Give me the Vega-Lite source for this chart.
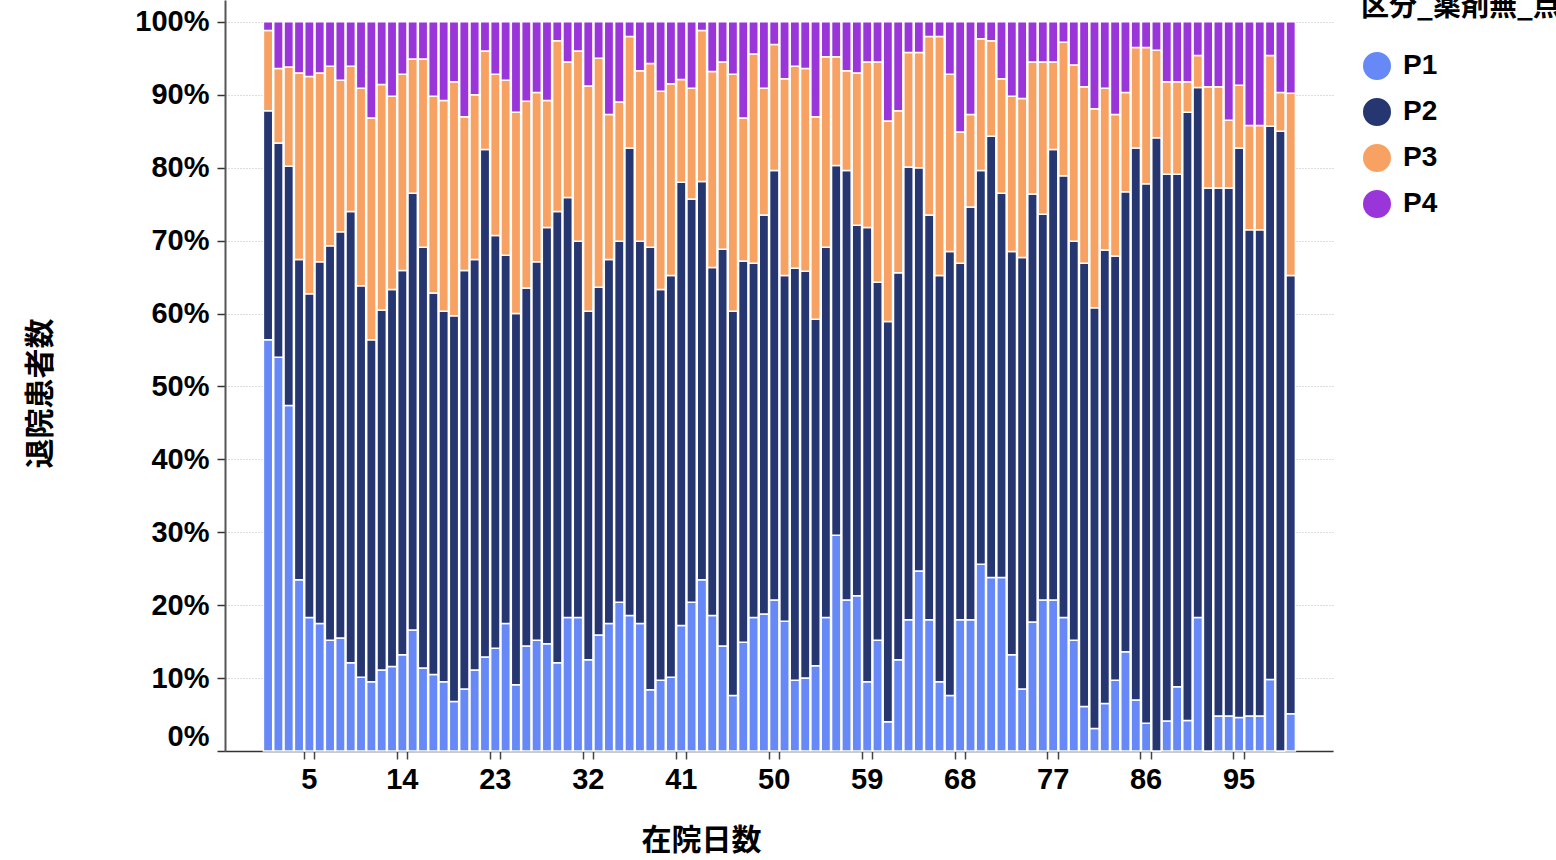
{
  "$schema": "https://vega.github.io/schema/vega-lite/v6.json",
  "width": 1108,
  "height": 751,
  "autosize": {"type": "none"},
  "padding": {"left": 225, "top": 0, "right": 223, "bottom": 109},
  "background": "white",
  "view": {"stroke": null},
  "data": {"values": [
    {"day":1,"P1":56.4,"P2":31.4,"P3":11.0,"P4":1.2},
    {"day":2,"P1":54.0,"P2":29.4,"P3":10.2,"P4":6.4},
    {"day":3,"P1":47.4,"P2":32.8,"P3":13.6,"P4":6.2},
    {"day":4,"P1":23.5,"P2":43.9,"P3":25.6,"P4":7.0},
    {"day":5,"P1":18.3,"P2":44.4,"P3":29.8,"P4":7.5},
    {"day":6,"P1":17.5,"P2":49.6,"P3":25.9,"P4":7.0},
    {"day":7,"P1":15.2,"P2":54.1,"P3":24.6,"P4":6.1},
    {"day":8,"P1":15.5,"P2":55.7,"P3":20.8,"P4":8.0},
    {"day":9,"P1":12.1,"P2":61.9,"P3":19.9,"P4":6.1},
    {"day":10,"P1":10.1,"P2":53.7,"P3":27.1,"P4":9.1},
    {"day":11,"P1":9.5,"P2":46.9,"P3":30.4,"P4":13.2},
    {"day":12,"P1":11.1,"P2":49.4,"P3":30.9,"P4":8.6},
    {"day":13,"P1":11.6,"P2":51.7,"P3":26.5,"P4":10.2},
    {"day":14,"P1":13.2,"P2":52.7,"P3":26.9,"P4":7.2},
    {"day":15,"P1":16.6,"P2":59.9,"P3":18.4,"P4":5.1},
    {"day":16,"P1":11.4,"P2":57.7,"P3":25.8,"P4":5.1},
    {"day":17,"P1":10.5,"P2":52.3,"P3":27.0,"P4":10.2},
    {"day":18,"P1":9.5,"P2":50.8,"P3":28.9,"P4":10.8},
    {"day":19,"P1":6.8,"P2":52.9,"P3":32.1,"P4":8.2},
    {"day":20,"P1":8.5,"P2":57.4,"P3":21.1,"P4":13.0},
    {"day":21,"P1":11.1,"P2":56.3,"P3":22.6,"P4":10.0},
    {"day":22,"P1":12.9,"P2":69.6,"P3":13.5,"P4":4.0},
    {"day":23,"P1":14.1,"P2":56.6,"P3":22.1,"P4":7.2},
    {"day":24,"P1":17.5,"P2":50.5,"P3":24.0,"P4":8.0},
    {"day":25,"P1":9.1,"P2":50.9,"P3":27.6,"P4":12.4},
    {"day":26,"P1":14.4,"P2":49.1,"P3":25.6,"P4":10.9},
    {"day":27,"P1":15.2,"P2":51.9,"P3":23.2,"P4":9.7},
    {"day":28,"P1":14.7,"P2":57.1,"P3":17.4,"P4":10.8},
    {"day":29,"P1":12.1,"P2":61.9,"P3":23.4,"P4":2.6},
    {"day":30,"P1":18.3,"P2":57.6,"P3":18.6,"P4":5.5},
    {"day":31,"P1":18.3,"P2":51.6,"P3":26.1,"P4":4.0},
    {"day":32,"P1":12.5,"P2":47.8,"P3":30.9,"P4":8.8},
    {"day":33,"P1":15.9,"P2":47.7,"P3":31.4,"P4":5.0},
    {"day":34,"P1":17.5,"P2":49.9,"P3":19.9,"P4":12.7},
    {"day":35,"P1":20.4,"P2":49.5,"P3":19.1,"P4":11.0},
    {"day":36,"P1":18.6,"P2":64.1,"P3":15.3,"P4":2.0},
    {"day":37,"P1":17.5,"P2":52.4,"P3":23.4,"P4":6.7},
    {"day":38,"P1":8.4,"P2":60.7,"P3":25.2,"P4":5.7},
    {"day":39,"P1":9.7,"P2":53.6,"P3":27.2,"P4":9.5},
    {"day":40,"P1":10.1,"P2":55.1,"P3":26.3,"P4":8.5},
    {"day":41,"P1":17.2,"P2":60.8,"P3":14.1,"P4":7.9},
    {"day":42,"P1":20.4,"P2":55.3,"P3":15.2,"P4":9.1},
    {"day":43,"P1":23.5,"P2":54.6,"P3":20.7,"P4":1.2},
    {"day":44,"P1":18.6,"P2":47.7,"P3":26.9,"P4":6.8},
    {"day":45,"P1":14.4,"P2":54.4,"P3":25.7,"P4":5.5},
    {"day":46,"P1":7.6,"P2":52.7,"P3":32.5,"P4":7.2},
    {"day":47,"P1":14.9,"P2":52.3,"P3":19.6,"P4":13.2},
    {"day":48,"P1":18.3,"P2":48.6,"P3":28.7,"P4":4.4},
    {"day":49,"P1":18.8,"P2":54.7,"P3":17.4,"P4":9.1},
    {"day":50,"P1":20.7,"P2":58.9,"P3":17.3,"P4":3.1},
    {"day":51,"P1":17.8,"P2":47.4,"P3":27.0,"P4":7.8},
    {"day":52,"P1":9.7,"P2":56.5,"P3":27.7,"P4":6.1},
    {"day":53,"P1":10.0,"P2":55.8,"P3":27.8,"P4":6.4},
    {"day":54,"P1":11.7,"P2":47.5,"P3":27.8,"P4":13.0},
    {"day":55,"P1":18.3,"P2":50.8,"P3":26.1,"P4":4.8},
    {"day":56,"P1":29.6,"P2":50.7,"P3":14.9,"P4":4.8},
    {"day":57,"P1":20.7,"P2":58.9,"P3":13.7,"P4":6.7},
    {"day":58,"P1":21.3,"P2":50.8,"P3":20.9,"P4":7.0},
    {"day":59,"P1":9.5,"P2":62.3,"P3":22.7,"P4":5.5},
    {"day":60,"P1":15.2,"P2":49.1,"P3":30.2,"P4":5.5},
    {"day":61,"P1":4.0,"P2":54.9,"P3":27.5,"P4":13.6},
    {"day":62,"P1":12.5,"P2":53.1,"P3":22.2,"P4":12.2},
    {"day":63,"P1":18.0,"P2":62.1,"P3":15.7,"P4":4.2},
    {"day":64,"P1":24.7,"P2":55.3,"P3":15.8,"P4":4.2},
    {"day":65,"P1":18.0,"P2":55.5,"P3":24.5,"P4":2.0},
    {"day":66,"P1":9.5,"P2":55.7,"P3":32.8,"P4":2.0},
    {"day":67,"P1":7.6,"P2":60.9,"P3":24.3,"P4":7.2},
    {"day":68,"P1":18.0,"P2":48.9,"P3":18.0,"P4":15.1},
    {"day":69,"P1":18.0,"P2":56.6,"P3":12.7,"P4":12.7},
    {"day":70,"P1":25.6,"P2":54.0,"P3":18.1,"P4":2.3},
    {"day":71,"P1":23.8,"P2":60.5,"P3":13.1,"P4":2.6},
    {"day":72,"P1":23.8,"P2":52.7,"P3":15.7,"P4":7.8},
    {"day":73,"P1":13.2,"P2":55.3,"P3":21.3,"P4":10.2},
    {"day":74,"P1":8.5,"P2":59.2,"P3":21.8,"P4":10.5},
    {"day":75,"P1":17.7,"P2":58.7,"P3":18.1,"P4":5.5},
    {"day":76,"P1":20.7,"P2":52.9,"P3":20.9,"P4":5.5},
    {"day":77,"P1":20.7,"P2":61.8,"P3":12.0,"P4":5.5},
    {"day":78,"P1":18.3,"P2":60.6,"P3":18.3,"P4":2.8},
    {"day":79,"P1":15.2,"P2":54.7,"P3":24.2,"P4":5.9},
    {"day":80,"P1":6.1,"P2":60.8,"P3":24.2,"P4":8.9},
    {"day":81,"P1":3.1,"P2":57.7,"P3":27.3,"P4":11.9},
    {"day":82,"P1":6.5,"P2":62.2,"P3":22.2,"P4":9.1},
    {"day":83,"P1":9.7,"P2":58.2,"P3":19.4,"P4":12.7},
    {"day":84,"P1":13.6,"P2":63.1,"P3":13.6,"P4":9.7},
    {"day":85,"P1":7.0,"P2":75.7,"P3":13.8,"P4":3.5},
    {"day":86,"P1":3.8,"P2":74.0,"P3":18.7,"P4":3.5},
    {"day":87,"P1":0,"P2":84.1,"P3":12.0,"P4":3.9},
    {"day":88,"P1":4.1,"P2":75.0,"P3":12.7,"P4":8.2},
    {"day":89,"P1":8.8,"P2":70.3,"P3":12.7,"P4":8.2},
    {"day":90,"P1":4.2,"P2":83.4,"P3":4.2,"P4":8.2},
    {"day":91,"P1":18.3,"P2":72.7,"P3":4.4,"P4":4.6},
    {"day":92,"P1":0,"P2":77.2,"P3":13.9,"P4":8.9},
    {"day":93,"P1":4.8,"P2":72.4,"P3":13.9,"P4":8.9},
    {"day":94,"P1":4.8,"P2":72.4,"P3":9.3,"P4":13.5},
    {"day":95,"P1":4.6,"P2":78.1,"P3":8.6,"P4":8.7},
    {"day":96,"P1":4.8,"P2":66.7,"P3":14.3,"P4":14.2},
    {"day":97,"P1":4.8,"P2":66.7,"P3":14.3,"P4":14.2},
    {"day":98,"P1":9.8,"P2":75.9,"P3":9.7,"P4":4.6},
    {"day":99,"P1":0,"P2":85.0,"P3":5.3,"P4":9.7},
    {"day":100,"P1":5.1,"P2":60.1,"P3":25.0,"P4":9.8}
  ]},
  "transform": [{"fold": ["P1", "P2", "P3", "P4"], "as": ["区分", "count"]}],
  "mark": {"type": "bar", "stroke": "white", "strokeWidth": 1.5},
  "encoding": {
    "x": {
      "field": "day",
      "type": "quantitative",
      "bin": {"step": 1, "extent": [0.5, 100.5], "nice": false},
      "scale": {"domain": [-3.12, 104.14]},
      "axis": {
        "title": "在院日数",
        "values": [4.5,5.5,13.5,14.5,22.5,23.5,31.5,32.5,40.5,41.5,49.5,50.5,58.5,59.5,67.5,68.5,76.5,77.5,85.5,86.5,94.5,95.5],
        "labelExpr": "datum.value % 9 === 4.5 ? format(datum.value + 0.5, 'd') : ''",
        "labelOffset": 5.17,
        "grid": false,
        "domainColor": "#333333",
        "domainWidth": 1.5,
        "tickColor": "#444444",
        "tickWidth": 1.5,
        "tickSize": 8,
        "labelFont": "Liberation Sans",
        "labelFontSize": 29,
        "labelFontWeight": "bold",
        "labelColor": "black",
        "labelPadding": 6,
        "labelFlush": false,
        "labelOverlap": false,
        "labelBound": false,
        "titleFont": "Noto Sans CJK JP",
        "titleFontSize": 30,
        "titleFontWeight": "bold",
        "titleColor": "black",
        "titleX": 476,
        "titleY": 89,
        "titleAlign": "center",
        "titleBaseline": "middle",
        "titleAnchor": null
      }
    },
    "y": {
      "aggregate": "sum",
      "field": "count",
      "type": "quantitative",
      "stack": "normalize",
      "scale": {"domain": [0, 1.03]},
      "axis": {
        "title": "退院患者数",
        "values": [0,0.1,0.2,0.3,0.4,0.5,0.6,0.7,0.8,0.9,1.0],
        "format": ".0%",
        "grid": true,
        "gridDash": [1, 2],
        "gridColor": "#bbbbbb",
        "gridWidth": 1,
        "domainColor": "#555555",
        "domainWidth": 2,
        "tickColor": "#333333",
        "tickSize": 8,
        "tickWidth": 1.5,
        "labelFont": "Liberation Sans",
        "labelFontSize": 29,
        "labelFontWeight": "bold",
        "labelColor": "black",
        "labelPadding": 8,
        "labelFlush": true,
        "titleFont": "Noto Sans CJK JP",
        "titleFontSize": 30,
        "titleFontWeight": "bold",
        "titleColor": "black",
        "titleX": -185,
        "titleY": 393,
        "titleAngle": -90,
        "titleAlign": "center",
        "titleBaseline": "middle",
        "titleAnchor": null
      }
    },
    "color": {
      "field": "区分",
      "type": "nominal",
      "scale": {"domain": ["P1", "P2", "P3", "P4"], "range": ["#6689f7", "#253670", "#f7a263", "#9a36d9"]},
      "legend": {
        "title": "区分_薬剤無_点数",
        "orient": "none",
        "legendX": 1136,
        "legendY": -6,
        "symbolType": "circle",
        "symbolSize": 900,
        "symbolOpacity": 1,
        "symbolStrokeWidth": 2,
        "labelFont": "Liberation Sans",
        "labelFontSize": 28,
        "labelFontWeight": "bold",
        "labelColor": "black",
        "labelOffset": 10,
        "titleFont": "Noto Sans CJK JP",
        "titleFontSize": 28,
        "titleFontWeight": "bold",
        "titleColor": "black",
        "titlePadding": 28,
        "titleLimit": 1000,
        "rowPadding": 8,
        "encode": {"symbols": {"update": {"stroke": {"value": "rgba(0,0,0,0.3)"}, "strokeWidth": {"value": 2}}}}
      }
    },
    "order": {"field": "区分", "sort": "ascending"}
  }
}
